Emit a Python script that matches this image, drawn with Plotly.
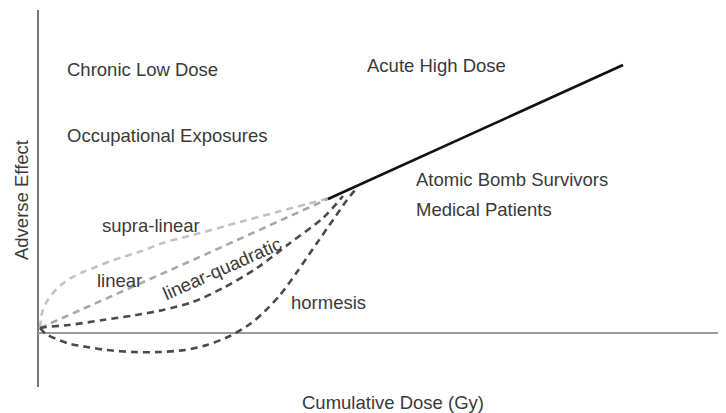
import plotly.graph_objects as go

# Values (dose units, effect units)
supra_x = [0.2, 0.4, 0.8, 1.5, 2.3, 3.3, 4.5, 5.8, 7.0, 8.5, 10.1, 12.5, 15.5, 20.2, 23.9, 26.9, 29.2]
supra_y = [0.5, 2.0, 3.0, 4.0, 4.8, 5.5, 6.1, 6.6, 7.1, 7.6, 8.1, 9.0, 9.8, 11.1, 12.1, 12.9, 13.5]

linear_x = [0.2, 15.5, 29.2]
linear_y = [0.5, 7.3, 13.5]

lq_x = [0.2, 0.8, 3.1, 6.5, 9.8, 12.5, 15.5, 18.5, 21.9, 25.2, 28.5, 30.5]
lq_y = [0.5, 0.6, 0.8, 1.3, 1.8, 2.3, 3.1, 4.5, 6.5, 9.0, 11.5, 13.7]

horm_x = [0.2, 0.8, 2.9, 4.9, 6.9, 9.5, 12.2, 14.7, 16.9, 19.2, 21.2, 22.7, 24.2, 25.9, 27.9, 29.5, 30.9, 31.7]
horm_y = [0.5, -0.1, -1.0, -1.4, -1.7, -1.9, -1.9, -1.7, -1.2, -0.3, 0.9, 2.2, 3.8, 6.1, 9.0, 11.3, 13.3, 14.3]

high_x = [29.0, 58.5]
high_y = [13.4, 26.8]

labels = ["Chronic Low Dose", "Occupational Exposures", "Acute High Dose",
          "Atomic Bomb Survivors", "Medical Patients", "supra-linear", "linear", "hormesis"]
label_x = [2.7, 2.7, 32.7, 37.6, 37.6, 6.2, 5.7, 25.1]
label_y = [26.4, 19.8, 26.8, 15.4, 12.4, 10.8, 5.3, 3.1]

FONT = "Liberation Sans, Arial, Helvetica, sans-serif"
TXT = "#3a3a3a"

fig = go.Figure()
dash = "7px,5px"
fig.add_trace(go.Scatter(x=supra_x, y=supra_y, mode="lines",
                         line=dict(color="#c2c2c2", width=2.6, dash=dash, shape="spline", smoothing=0.8)))
fig.add_trace(go.Scatter(x=linear_x, y=linear_y, mode="lines",
                         line=dict(color="#a8a8a8", width=2.6, dash=dash)))
fig.add_trace(go.Scatter(x=lq_x, y=lq_y, mode="lines",
                         line=dict(color="#4a4a4a", width=2.6, dash=dash, shape="spline", smoothing=0.8)))
fig.add_trace(go.Scatter(x=horm_x, y=horm_y, mode="lines",
                         line=dict(color="#4a4a4a", width=2.6, dash=dash, shape="spline", smoothing=0.8)))
fig.add_trace(go.Scatter(x=high_x, y=high_y, mode="lines",
                         line=dict(color="#111111", width=2.6)))

for t, x, y in zip(labels, label_x, label_y):
    fig.add_annotation(x=x, y=y, text=t, showarrow=False, xanchor="left", yanchor="middle",
                       font=dict(family=FONT, size=18.5, color=TXT))

fig.add_annotation(x=18.4, y=6.5, text="linear-quadratic", showarrow=False, textangle=-24,
                   xanchor="center", yanchor="middle",
                   font=dict(family=FONT, size=18.5, color=TXT))

fig.add_annotation(xref="paper", yref="paper", x=-0.0247, y=0.496, text="Adverse Effect",
                   showarrow=False, textangle=-90, xanchor="center", yanchor="middle",
                   font=dict(family=FONT, size=18.5, color=TXT))
fig.add_annotation(xref="paper", yref="paper", x=0.5153, y=-0.0424, text="Cumulative Dose (Gy)",
                   showarrow=False, xanchor="center", yanchor="middle",
                   font=dict(family=FONT, size=18.5, color=TXT))

# page body adds an 8px offset, so the figure is 8px smaller and margins shifted
fig.update_layout(
    width=718, height=405,
    margin=dict(l=30, r=0, t=2, b=26),
    paper_bgcolor="white", plot_bgcolor="white",
    showlegend=False,
    xaxis=dict(range=[0, 68.8], showgrid=False, showticklabels=False, ticks="",
               zeroline=True, zerolinecolor="#777777", zerolinewidth=1.6, showline=False),
    yaxis=dict(range=[-5.4, 32.3], showgrid=False, showticklabels=False, ticks="",
               zeroline=True, zerolinecolor="#999999", zerolinewidth=1.8, showline=False),
)

fig.write_html("out.html")
